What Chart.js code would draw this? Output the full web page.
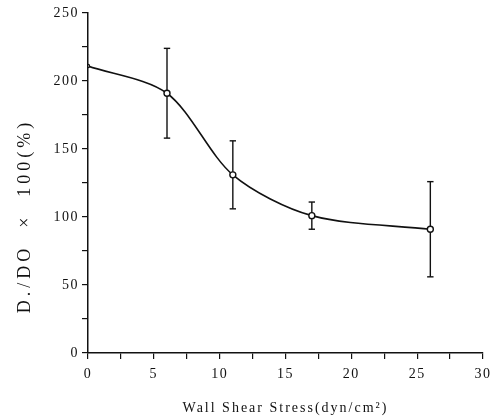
<!DOCTYPE html>
<html>
<head>
<meta charset="utf-8">
<script src="https://cdn.jsdelivr.net/npm/chart.js@4"></script>
<style>
  html, body { margin: 0; padding: 0; background: #fff; }
  #wrap { width: 497px; height: 420px; }
</style>
</head>
<body>
<div id="wrap"><canvas id="c" width="497" height="420"></canvas></div>
<script>
// Data
const shearStress = [0, 6, 11, 17, 26];
const ratioMean   = [211, 191, 131, 101, 91];
const errLow      = [null, 158, 106, 91, 56];
const errHigh     = [null, 224, 156, 111, 126];
const xTickLabels = [0, 5, 10, 15, 20, 25, 30];
const yTickLabels = [0, 50, 100, 150, 200, 250];
const xTitle = 'Wall Shear Stress(dyn/cm\u00B2)';
const yTitle = 'D./DO  \u00D7  100(%)';

const ink = '#111';
const serif = "'Liberation Serif', 'DejaVu Serif', serif";

const mainData = shearStress.map((x, i) => ({ x: x, y: ratioMean[i] }));
const errDatasets = [];
shearStress.forEach((x, i) => {
  if (errLow[i] == null) return;
  errDatasets.push({
    data: [{ x: x, y: errLow[i] }, { x: x, y: errHigh[i] }],
    showLine: true,
    borderColor: ink,
    borderWidth: 1.4,
    pointStyle: 'line',
    pointRadius: 3.2,
    pointBorderWidth: 1.4,
    pointBorderColor: ink,
    tension: 0,
    order: 2
  });
});

// letter spacing (scanned typeset look)
const TICK_SPACING = '1.5px';
const titleStyle = {
  x: { spacing: '2px', dy: 0 },
  y: { spacing: '4px', dy: 33 }
};
const spacingPlugin = {
  id: 'spacing',
  beforeUpdate(chart) { chart.ctx.letterSpacing = TICK_SPACING; },
  beforeLayout(chart) { chart.ctx.letterSpacing = TICK_SPACING; },
  beforeDraw(chart) { chart.ctx.letterSpacing = TICK_SPACING; },
  afterUpdate(chart) {
    Object.keys(titleStyle).forEach(id => {
      const scale = chart.scales[id];
      if (!scale || scale._patchedTitle) return;
      const orig = scale.drawTitle;
      scale.drawTitle = function () {
        const ctx = this.ctx;
        ctx.save();
        ctx.letterSpacing = titleStyle[id].spacing;
        ctx.translate(0, titleStyle[id].dy);
        orig.apply(this, arguments);
        ctx.restore();
      };
      scale._patchedTitle = true;
    });
  }
};

new Chart(document.getElementById('c'), {
  type: 'scatter',
  data: {
    datasets: [
      {
        data: mainData,
        showLine: true,
        borderColor: ink,
        borderWidth: 1.6,
        tension: 0.3,
        pointRadius: [1.5, 3, 3, 3, 3],
        pointBackgroundColor: '#fff',
        pointBorderColor: ink,
        pointBorderWidth: 1.4,
        order: 0
      },
      ...errDatasets
    ]
  },
  options: {
    responsive: false,
    animation: false,
    devicePixelRatio: 1,
    layout: { padding: { top: 13, right: 14, left: 0, bottom: 0 } },
    plugins: { legend: { display: false }, tooltip: { enabled: false } },
    scales: {
      x: {
        type: 'linear',
        min: 0, max: 30,
        afterFit(s) { s.height = 67; s.paddingRight = 0; },
        border: { display: true, color: ink, width: 1.5 },
        grid: { display: true, drawOnChartArea: false, tickLength: 6, color: ink, lineWidth: 1.2 },
        ticks: {
          stepSize: 2.5,
          autoSkip: false,
          maxRotation: 0,
          padding: 7,
          color: ink,
          font: { family: serif, size: 14 },
          callback: v => xTickLabels.includes(v) ? String(v) : ''
        },
        title: {
          display: true,
          text: xTitle,
          color: ink,
          font: { family: serif, size: 14 },
          padding: { top: 0, bottom: 3 }
        }
      },
      y: {
        type: 'linear',
        min: 0, max: 250,
        afterFit(s) { s.width = 88; },
        border: { display: true, color: ink, width: 1.5 },
        grid: { display: true, drawOnChartArea: false, tickLength: 6, color: ink, lineWidth: 1.2 },
        ticks: {
          stepSize: 25,
          autoSkip: false,
          padding: 3,
          color: ink,
          font: { family: serif, size: 14 },
          callback: v => yTickLabels.includes(v) ? String(v) : ''
        },
        title: {
          display: true,
          text: yTitle,
          color: ink,
          font: { family: serif, size: 18 },
          padding: { top: 14, bottom: 0 }
        }
      }
    }
  },
  plugins: [spacingPlugin]
});
</script>
</body>
</html>
